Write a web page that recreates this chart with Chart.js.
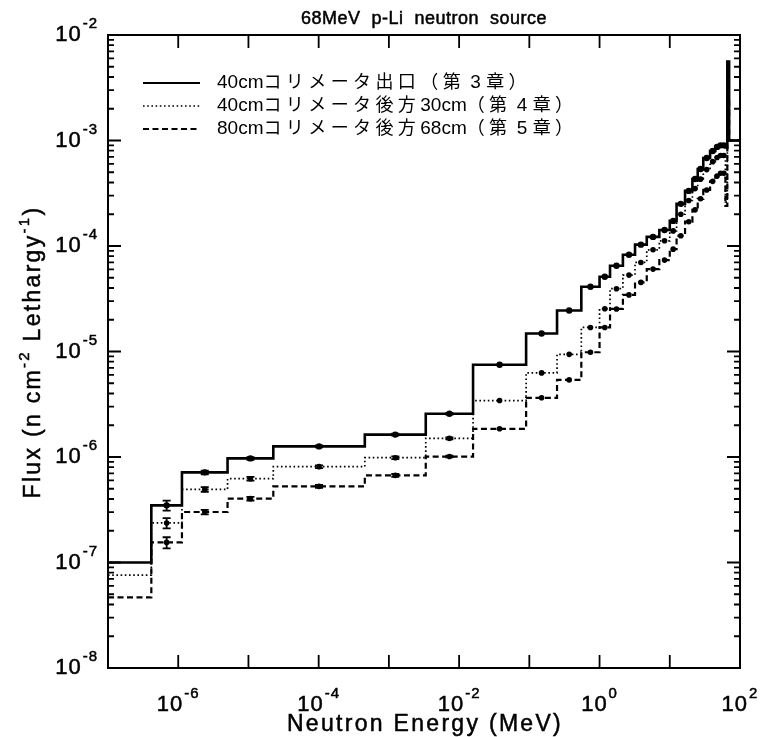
<!DOCTYPE html>
<html><head><meta charset="utf-8">
<script src="https://cdn.jsdelivr.net/npm/chart.js@4.4.1/dist/chart.umd.min.js"></script>
<style>html,body{margin:0;padding:0;background:#fff}</style>
</head><body>
<canvas id="c" width="764" height="737"></canvas>
<script>
// Energy bin edges (MeV)
const binEdges = [1e-7, 4.14e-7, 1.13e-6, 5.04e-6, 2.26e-5, 4.54e-4, 3.35e-3, 0.0158, 0.09, 0.248, 0.55,
  1.0, 1.41, 2.15, 3.2, 4.7, 7.1, 10, 12.5, 16.5, 21, 25, 30, 37.5, 44.5, 50, 56, 62, 66, 70, 100];
// Flux per lethargy for each bin
const fluxExit40 = [1.0e-7, 3.48e-7, 7.15e-7, 9.7e-7, 1.26e-6, 1.63e-6, 2.57e-6, 7.5e-6, 1.48e-5, 2.45e-5,
  4.11e-5, 5.11e-5, 6.5e-5, 8.26e-5, 1.03e-4, 1.22e-4, 1.42e-4, 1.73e-4, 2.51e-4, 3.33e-4,
  4.32e-4, 5.37e-4, 6.82e-4, 7.95e-4, 8.7e-4, 9.0e-4, 9.0e-4, 8.6e-4, 5.6e-3, 1.0e-3];
const fluxBehind30 = [7.59e-8, 2.37e-7, 4.93e-7, 6.23e-7, 8.1e-7, 9.85e-7, 1.5e-6, 3.43e-6, 6.27e-6, 9.4e-6,
  1.69e-5, 2.54e-5, 3.94e-5, 5.3e-5, 6.98e-5, 9.2e-5, 1.12e-4, 1.39e-4, 2.0e-4, 2.7e-4,
  3.5e-4, 4.3e-4, 5.3e-4, 6.3e-4, 6.9e-4, 7.2e-4, 7.2e-4, 2.6e-4, 3.5e-3, 1.0e-3];
const fluxBehind68 = [4.67e-8, 1.55e-7, 3.01e-7, 4.03e-7, 5.27e-7, 6.7e-7, 1.01e-6, 1.85e-6, 3.64e-6, 5.38e-6,
  9.84e-6, 1.69e-5, 2.53e-5, 3.44e-5, 4.52e-5, 6.04e-5, 7.35e-5, 9.34e-5, 1.25e-4, 1.7e-4,
  2.2e-4, 2.8e-4, 3.4e-4, 4.1e-4, 4.6e-4, 4.9e-4, 4.9e-4, 2.4e-4, 2.5e-3, 1.0e-3];
// relative statistical errors (only visible at lowest energies)
const errExit40 =   [0, 0.11, 0.04, 0.03, 0.02, 0.02, 0.02, 0, 0, 0, 0, 0, 0, 0, 0, 0, 0, 0, 0, 0, 0, 0, 0, 0, 0, 0, 0, 0, 0, 0];
const errBehind30 = [0, 0.11, 0.05, 0.04, 0.03, 0.03, 0.02, 0, 0, 0, 0, 0, 0, 0, 0, 0, 0, 0, 0, 0, 0, 0, 0, 0, 0, 0, 0, 0, 0, 0];
const errBehind68 = [0, 0.12, 0.05, 0.04, 0.03, 0.03, 0.02, 0, 0, 0, 0, 0, 0, 0, 0, 0, 0, 0, 0, 0, 0, 0, 0, 0, 0, 0, 0, 0, 0, 0];
const seriesLabels = ['40cmコリメータ出口（第 3 章）', '40cmコリメータ後方30cm（第 4 章）', '80cmコリメータ後方68cm（第 5 章）'];
const xTickExps = [-6, -4, -2, 0, 2];
const yTickExps = [-8, -7, -6, -5, -4, -3, -2];
const titleText = '68MeV  p-Li  neutron  source';
const xTitle = 'Neutron Energy (MeV)';

const styles = [
  {w: 2.6, dash: []},
  {w: 1.7, dash: [1.6, 2.6]},
  {w: 2.2, dash: [6, 3.5]}
];
const allFlux = [fluxExit40, fluxBehind30, fluxBehind68];
const allErr = [errExit40, errBehind30, errBehind68];

function stepPoints(vals) {
  const pts = vals.map((v, i) => ({x: binEdges[i], y: v}));
  pts.push({x: binEdges[binEdges.length - 1], y: vals[vals.length - 1]});
  return pts;
}
function centerPoints(vals) {
  const pts = [];
  for (let i = 1; i <= 26; i++) pts.push({x: Math.sqrt(binEdges[i] * binEdges[i + 1]), y: vals[i]});
  return pts;
}

const datasets = [];
allFlux.forEach((vals, k) => {
  datasets.push({type: 'line', label: seriesLabels[k], data: stepPoints(vals), stepped: true,
    borderColor: '#000', borderWidth: styles[k].w, borderDash: styles[k].dash, pointRadius: 0, fill: false,
    borderCapStyle: 'butt'});
});
allFlux.forEach((vals, k) => {
  datasets.push({type: 'scatter', label: 'pts' + k, data: centerPoints(vals), showLine: false,
    pointRadius: k === 0 ? 3.2 : 2.8, pointBackgroundColor: '#000', pointBorderWidth: 0, borderColor: '#000'});
});

const FONT = '"Liberation Sans", Arial, Helvetica, sans-serif';
const JFONT = '"Liberation Sans", "Noto Sans CJK JP", sans-serif';

function setLS(ctx, v) { if ('letterSpacing' in ctx) ctx.letterSpacing = v + 'px'; }
function txt(ctx, s, x, y) { ctx.fillText(s, x, y); ctx.strokeText(s, x, y); }

function drawPow(ctx, exp, x, y, align) {
  setLS(ctx, 1);
  ctx.font = '22px ' + FONT;
  const wb = ctx.measureText('10').width;
  ctx.font = '15px ' + FONT;
  const es = String(exp);
  const we = ctx.measureText(es).width;
  const total = wb + 1 + we;
  let x0 = align === 'right' ? x - total : x - total / 2;
  ctx.textBaseline = 'middle'; ctx.textAlign = 'left';
  ctx.font = '22px ' + FONT;
  txt(ctx, '10', x0, y);
  ctx.font = '15px ' + FONT;
  txt(ctx, es, x0 + wb + 1, y - 11);
  setLS(ctx, 0);
}

function drawSpaced(ctx, text, x, y) {
  let cx = x;
  for (const ch of text) {
    const cjk = /[\u3000-\u9fff\uff00-\uffef]/.test(ch);
    ctx.font = (cjk ? '18px ' : '19px ') + JFONT;
    ctx.fillText(ch, cx, y);
    cx += ctx.measureText(ch).width + (cjk ? 4.4 : 0);
  }
}

const deco = {
  id: 'deco',
  afterDatasetsDraw(chart) {
    const ctx = chart.ctx, xs = chart.scales.x, ys = chart.scales.y;
    ctx.save();
    ctx.strokeStyle = '#000'; ctx.lineWidth = 1.8;
    allFlux.forEach((vals, k) => {
      for (let i = 1; i <= 26; i++) {
        const e = allErr[k][i];
        if (!e) continue;
        const px = xs.getPixelForValue(Math.sqrt(binEdges[i] * binEdges[i + 1]));
        const y1 = ys.getPixelForValue(vals[i] * (1 + e)), y2 = ys.getPixelForValue(vals[i] * (1 - e));
        ctx.beginPath();
        ctx.moveTo(px, y1); ctx.lineTo(px, y2);
        ctx.moveTo(px - 4, y1); ctx.lineTo(px + 4, y1);
        ctx.moveTo(px - 4, y2); ctx.lineTo(px + 4, y2);
        ctx.stroke();
      }
    });
    ctx.restore();
  },
  afterDraw(chart) {
    const ctx = chart.ctx, a = chart.chartArea, xs = chart.scales.x, ys = chart.scales.y;
    ctx.save();
    ctx.strokeStyle = '#000'; ctx.fillStyle = '#000';
    // frame
    ctx.lineWidth = 2;
    ctx.strokeRect(a.left, a.top, a.right - a.left, a.bottom - a.top);
    // y ticks
    ctx.lineWidth = 1.8;
    for (let d = -8; d <= -2; d++) {
      const py = ys.getPixelForValue(Math.pow(10, d));
      ctx.beginPath();
      ctx.moveTo(a.left, py); ctx.lineTo(a.left + 13, py);
      ctx.moveTo(a.right, py); ctx.lineTo(a.right - 13, py);
      ctx.stroke();
      if (d < -2) {
        for (let m = 2; m <= 9; m++) {
          const q = ys.getPixelForValue(m * Math.pow(10, d));
          ctx.beginPath();
          ctx.moveTo(a.left, q); ctx.lineTo(a.left + 6, q);
          ctx.moveTo(a.right, q); ctx.lineTo(a.right - 6, q);
          ctx.stroke();
        }
      }
    }
    // x ticks
    for (let d = -6; d <= 1; d++) {
      const px = xs.getPixelForValue(Math.pow(10, d));
      ctx.beginPath();
      ctx.moveTo(px, a.bottom); ctx.lineTo(px, a.bottom - 13);
      ctx.moveTo(px, a.top); ctx.lineTo(px, a.top + 13);
      ctx.stroke();
    }
    // text slightly emboldened like the scanned original
    ctx.lineWidth = 0.5;
    // tick labels
    yTickExps.forEach(e => drawPow(ctx, e, a.left - 10, ys.getPixelForValue(Math.pow(10, e)), 'right'));
    xTickExps.forEach(e => drawPow(ctx, e, xs.getPixelForValue(Math.pow(10, e)), a.bottom + 37, 'center'));
    // title
    ctx.textAlign = 'center'; ctx.textBaseline = 'alphabetic';
    setLS(ctx, 0.5);
    ctx.font = '18px ' + FONT;
    txt(ctx, titleText, (a.left + a.right) / 2, 24);
    // x title
    setLS(ctx, 2.3);
    ctx.font = '23px ' + FONT;
    txt(ctx, xTitle, (a.left + a.right) / 2 + 1, 731);
    // y title
    ctx.save();
    ctx.translate(40, 352);
    ctx.rotate(-Math.PI / 2);
    const parts = [['Flux (n cm', 0], ['-2', 1], [' Lethargy', 0], ['-1', 1], [')', 0]];
    let tw = 0;
    parts.forEach(p => { ctx.font = (p[1] ? '15px ' : '23px ') + FONT; tw += ctx.measureText(p[0]).width; });
    let cx = -tw / 2;
    ctx.textAlign = 'left';
    parts.forEach(p => {
      ctx.font = (p[1] ? '15px ' : '23px ') + FONT;
      txt(ctx, p[0], cx, p[1] ? -11 : 0);
      cx += ctx.measureText(p[0]).width;
    });
    ctx.restore();
    setLS(ctx, 0);
    // legend
    const rows = [83, 106, 129];
    rows.forEach((ry, k) => {
      ctx.beginPath();
      ctx.lineWidth = styles[k].w * 0.85;
      ctx.setLineDash(styles[k].dash);
      ctx.moveTo(143, ry); ctx.lineTo(200, ry);
      ctx.stroke();
      ctx.setLineDash([]);
      ctx.textAlign = 'left'; ctx.textBaseline = 'middle';
      drawSpaced(ctx, seriesLabels[k], 217, ry);
    });
    ctx.restore();
  }
};

new Chart(document.getElementById('c'), {
  type: 'line',
  data: {datasets},
  options: {
    responsive: false, animation: false, devicePixelRatio: 1,
    layout: {padding: {left: 108, right: 24, top: 35, bottom: 69}},
    plugins: {legend: {display: false}, title: {display: false}, tooltip: {enabled: false}},
    scales: {
      x: {type: 'logarithmic', min: 1e-7, max: 100, display: false},
      y: {type: 'logarithmic', min: 1e-8, max: 1e-2, display: false}
    }
  },
  plugins: [deco]
});
</script>
</body></html>
